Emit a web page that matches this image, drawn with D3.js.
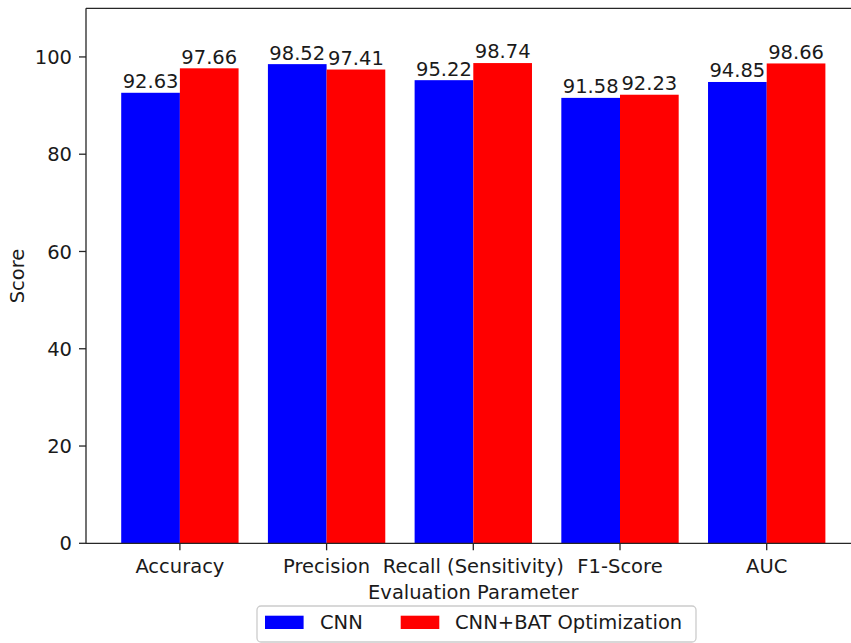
<!DOCTYPE html>
<html>
<head>
<meta charset="utf-8">
<script src="https://cdn.jsdelivr.net/npm/d3@7"></script>
<style>
  html, body { margin: 0; padding: 0; background: #fff; }
  svg { display: block; }
  text { font-family: "DejaVu Sans", sans-serif; fill: #1a1a1a; }
</style>
</head>
<body>
<svg id="chart" width="851" height="643"></svg>
<script>
const categories = ["Accuracy", "Precision", "Recall (Sensitivity)", "F1-Score", "AUC"];
const seriesNames = ["CNN", "CNN+BAT Optimization"];
const cnnValues = [92.63, 98.52, 95.22, 91.58, 94.85];
const batValues = [97.66, 97.41, 98.74, 92.23, 98.66];
const yTicks = [0, 20, 40, 60, 80, 100];
const colors = ["#0000ff", "#ff0000"];

const svg = d3.select("#chart");
const fs = 19.5;

const x = d3.scaleLinear().domain([-0.64, 4.64]).range([86, 860.6]);
const y = d3.scaleLinear().domain([0, 110]).range([543.3, 8.3]);
const bw = 0.4;

const series = [cnnValues, batValues];
series.forEach((vals, s) => {
  const off = s === 0 ? -bw : 0;
  const g = svg.append("g");
  g.selectAll("rect").data(vals).join("rect")
    .attr("x", (d, i) => x(i + off))
    .attr("width", (d, i) => x(i + off + bw) - x(i + off))
    .attr("y", d => y(d))
    .attr("height", d => y(0) - y(d))
    .attr("fill", colors[s]);
  g.selectAll("text").data(vals).join("text")
    .attr("x", (d, i) => x(i + off + bw / 2))
    .attr("y", d => y(d) - 4.6)
    .attr("text-anchor", "middle")
    .attr("font-size", fs)
    .text(d => d.toFixed(2));
});

// axes spines
const axisColor = "#262626";
svg.append("line").attr("x1", 86).attr("x2", 860.6).attr("y1", y(0)).attr("y2", y(0))
  .attr("stroke", axisColor).attr("stroke-width", 1.3);
svg.append("line").attr("x1", 86).attr("x2", 860.6).attr("y1", y(110)).attr("y2", y(110))
  .attr("stroke", axisColor).attr("stroke-width", 1.3);
svg.append("line").attr("x1", 86).attr("x2", 86).attr("y1", y(0)).attr("y2", y(110))
  .attr("stroke", axisColor).attr("stroke-width", 1.3);

// y ticks
const yg = svg.append("g");
yTicks.forEach(t => {
  yg.append("line").attr("x1", 79).attr("x2", 86).attr("y1", y(t)).attr("y2", y(t))
    .attr("stroke", axisColor).attr("stroke-width", 1.3);
  yg.append("text").attr("x", 72).attr("y", y(t)).attr("dy", "0.36em")
    .attr("text-anchor", "end").attr("font-size", fs).text(t);
});

// x ticks
const xg = svg.append("g");
categories.forEach((c, i) => {
  xg.append("line").attr("x1", x(i)).attr("x2", x(i)).attr("y1", y(0)).attr("y2", y(0) + 7)
    .attr("stroke", axisColor).attr("stroke-width", 1.3);
  xg.append("text").attr("x", x(i)).attr("y", 572.8)
    .attr("text-anchor", "middle").attr("font-size", fs).text(c);
});

// axis labels
svg.append("text").attr("x", 473.3).attr("y", 598.6).attr("text-anchor", "middle")
  .attr("font-size", fs).text("Evaluation Parameter");
svg.append("text").attr("transform", "translate(24,276) rotate(-90)")
  .attr("text-anchor", "middle").attr("font-size", fs).text("Score");

// legend
const lg = svg.append("g");
lg.append("rect").attr("x", 257).attr("y", 606).attr("width", 439).attr("height", 36)
  .attr("rx", 4).attr("fill", "#fff").attr("fill-opacity", 0.8)
  .attr("stroke", "#cccccc").attr("stroke-width", 1.3);
const legendItems = [{x: 265, tx: 320}, {x: 400.7, tx: 455}];
legendItems.forEach((it, s) => {
  lg.append("rect").attr("x", it.x).attr("y", 615.7).attr("width", 38.6).attr("height", 13.3)
    .attr("fill", colors[s]);
  lg.append("text").attr("x", it.tx).attr("y", 622.3).attr("dy", "0.36em")
    .attr("font-size", fs).text(seriesNames[s]);
});
</script>
</body>
</html>
